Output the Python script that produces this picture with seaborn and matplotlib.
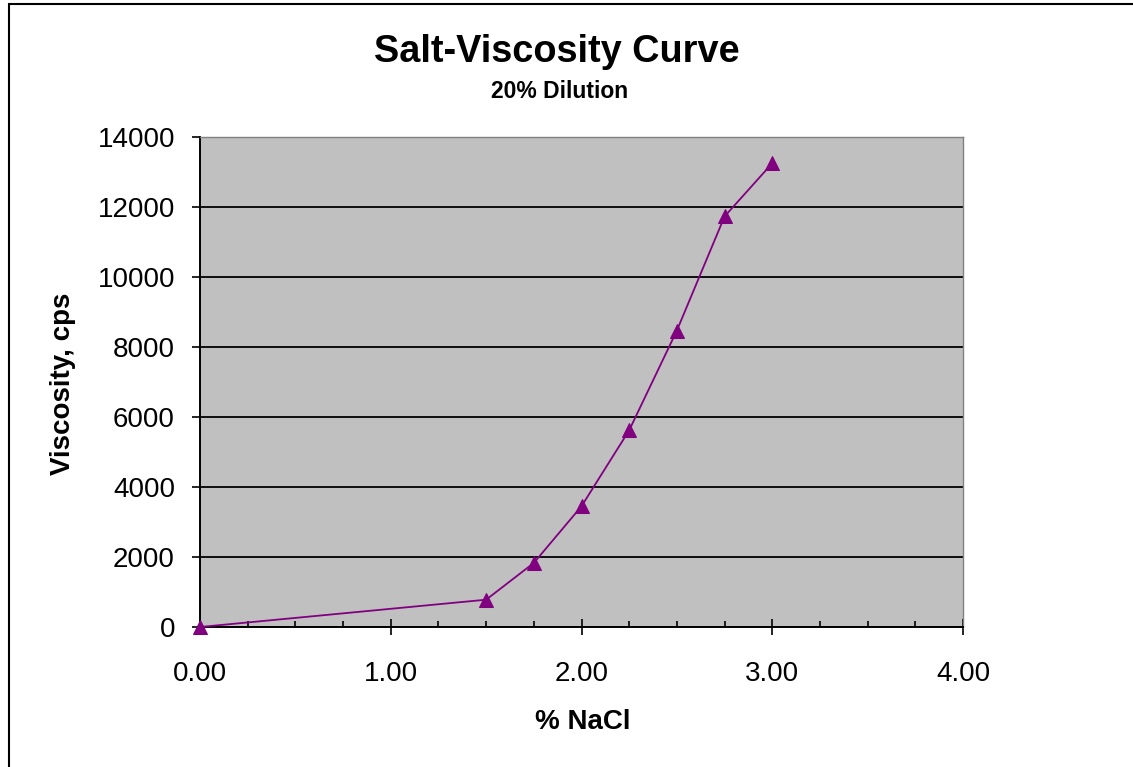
import matplotlib
matplotlib.use("Agg")
import matplotlib.pyplot as plt
import matplotlib.patches as patches
from matplotlib.ticker import MultipleLocator, FormatStrFormatter
import seaborn as sns
import pandas as pd

# data
nacl_pct = [0.0, 1.5, 1.75, 2.0, 2.25, 2.5, 2.75, 3.0]
viscosity_cps = [0, 780, 1830, 3450, 5620, 8470, 11730, 13250]

df = pd.DataFrame({"NaCl": nacl_pct, "Viscosity": viscosity_cps})

sns.set_style("white", {"axes.facecolor": "#C0C0C0"})
plt.rcParams["font.family"] = ["Liberation Sans", "DejaVu Sans"]
plt.rcParams["text.color"] = "black"
plt.rcParams["axes.labelcolor"] = "black"
plt.rcParams["xtick.labelcolor"] = "black"
plt.rcParams["ytick.labelcolor"] = "black"

fig = plt.figure(figsize=(11.33, 7.67), dpi=100)
ax = fig.add_axes([200 / 1133, 1 - 627 / 767, 763 / 1133, 490 / 767])
ax.set_facecolor("#C0C0C0")

sns.lineplot(data=df, x="NaCl", y="Viscosity", ax=ax, color="#800080",
             linewidth=1.3, marker="^", markersize=10,
             markeredgecolor="#800080", markerfacecolor="#800080", zorder=3)
for ln in ax.lines:
    ln.set_clip_on(False)

ax.set_xlim(0, 4)
ax.set_ylim(0, 14000)
ax.xaxis.set_major_locator(MultipleLocator(1))
ax.xaxis.set_minor_locator(MultipleLocator(0.25))
ax.xaxis.set_major_formatter(FormatStrFormatter("%.2f"))
ax.yaxis.set_major_locator(MultipleLocator(2000))

ax.grid(axis="y", color="black", linewidth=1.3)
ax.set_axisbelow(True)

for s in ["left", "bottom"]:
    ax.spines[s].set_color("black")
    ax.spines[s].set_linewidth(1.4)
for s in ["top", "right"]:
    ax.spines[s].set_color("#808080")
    ax.spines[s].set_linewidth(1.0)

ax.tick_params(axis="x", which="major", direction="inout", length=11,
               width=1.2, color="black", labelsize=20, pad=19, bottom=True)
ax.tick_params(axis="x", which="minor", direction="in", length=4.5,
               width=1.2, color="black", bottom=True)
ax.tick_params(axis="y", which="major", direction="out", length=6,
               width=1.2, color="black", labelsize=20, pad=12, left=True)

ax.set_xlabel("% NaCl", fontsize=20, fontweight="bold")
ax.set_ylabel("Viscosity, cps", fontsize=20, fontweight="bold")
ax.xaxis.set_label_coords(0.502, -0.168)
ax.xaxis.label.set_va("top")
ax.yaxis.set_label_coords(-0.18, 0.496)
ax.yaxis.label.set_va("center")

fig.text(557 / 1133, 1 - 62 / 767, "Salt-Viscosity Curve", ha="center",
         va="baseline", fontsize=27.3, fontweight="bold")
fig.text(560 / 1133, 1 - 98 / 767, "20% Dilution", ha="center",
         va="baseline", fontsize=16.5, fontweight="bold")

# chart frame
frame = patches.Rectangle((8.5 / 1133, -0.05), 1.1, 1.05 - 3.5 / 767,
                          transform=fig.transFigure, fill=False,
                          edgecolor="black", linewidth=1.5, clip_on=False)
fig.add_artist(frame)

fig.savefig("out.png", dpi=100)
